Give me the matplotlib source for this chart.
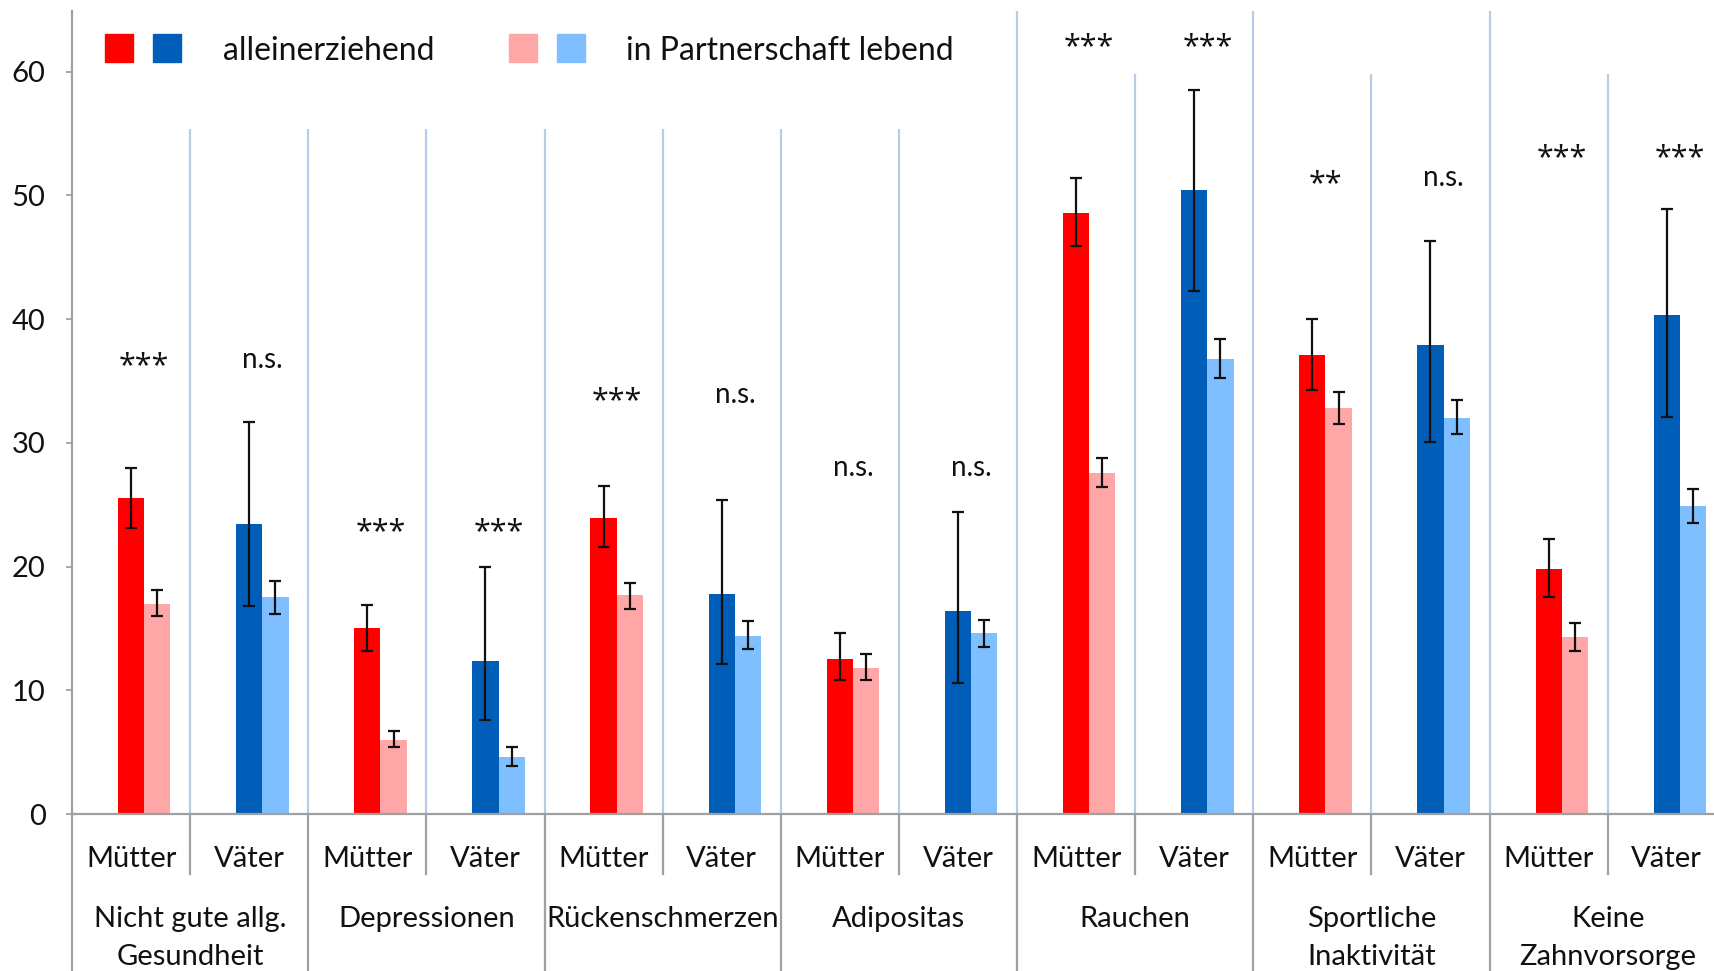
import matplotlib
matplotlib.use("Agg")
import matplotlib.pyplot as plt
from matplotlib.patches import Rectangle

plt.rcParams['font.family'] = ['Lato', 'DejaVu Sans']

# ---------------- data ----------------
categories = ["Nicht gute allg.\nGesundheit", "Depressionen", "Rückenschmerzen",
              "Adipositas", "Rauchen", "Sportliche\nInaktivität", "Keine\nZahnvorsorge"]
subgroups = ["Mütter", "Väter"]

# alleinerziehend (Mütter, Väter per category)
single = [25.5, 23.4, 15.0, 12.4, 23.9, 17.8, 12.5, 16.4, 48.6, 50.4, 37.1, 37.9, 19.8, 40.3]
single_lo = [23.1, 16.8, 13.2, 7.6, 21.6, 12.1, 10.8, 10.6, 45.9, 42.3, 34.3, 30.1, 17.5, 32.1]
single_hi = [28.0, 31.7, 16.9, 20.0, 26.5, 25.4, 14.6, 24.4, 51.4, 58.5, 40.0, 46.3, 22.2, 48.9]

# in Partnerschaft lebend
partner = [17.0, 17.5, 6.0, 4.6, 17.7, 14.4, 11.8, 14.6, 27.6, 36.8, 32.8, 32.0, 14.3, 24.9]
partner_lo = [16.0, 16.2, 5.4, 3.9, 16.6, 13.3, 10.8, 13.5, 26.4, 35.2, 31.5, 30.7, 13.2, 23.5]
partner_hi = [18.1, 18.8, 6.7, 5.4, 18.7, 15.6, 12.9, 15.7, 28.8, 38.4, 34.1, 33.5, 15.4, 26.3]

sig = ["***", "n.s.", "***", "***", "***", "n.s.", "n.s.", "n.s.",
       "***", "***", "**", "n.s.", "***", "***"]
sig_y = [36.7, 36.7, 23.3, 23.3, 33.9, 33.9, 28.0, 28.0, 62.5, 62.5, 51.4, 51.4, 53.5, 53.5]

legend_labels = ["alleinerziehend", "in Partnerschaft lebend"]

# separator line tops (data units) for boundaries 1..13
sep_top = [55.4] * 7 + [65, 59.8, 65, 59.8, 65, 59.8]

# ---------------- style ----------------
c_red, c_pink = "#FF0000", "#FFA6A6"
c_blue, c_lblue = "#005EB8", "#80BFFF"
grid_c = "#B8CCE8"
axis_c = "#A0A0A0"
txt_c = "#111111"
W, H = 1714, 971

fig = plt.figure(figsize=(W / 100, H / 100), dpi=100)
ax = fig.add_axes([72 / W, 1 - 814 / H, 1 - 72 / W, (814 - 11) / H])

n = len(single)
bw = 0.222
dark_cols = [c_red if i % 2 == 0 else c_blue for i in range(n)]
light_cols = [c_pink if i % 2 == 0 else c_lblue for i in range(n)]
xd = [i + 0.5 for i in range(n)]
xl = [i + 0.5 + bw for i in range(n)]

# separator lines
ax.vlines(range(1, n), 0, sep_top, color=grid_c, lw=1.6, zorder=1)

ax.bar(xd, single, width=bw, color=dark_cols, edgecolor="none", zorder=2)
ax.bar(xl, partner, width=bw, color=light_cols, edgecolor="none", zorder=2)

ax.errorbar(xd, single, yerr=[[v - l for v, l in zip(single, single_lo)],
                              [h - v for v, h in zip(single, single_hi)]],
            fmt="none", ecolor=txt_c, elinewidth=1.6, capsize=4.5, capthick=1.6, zorder=3)
ax.errorbar(xl, partner, yerr=[[v - l for v, l in zip(partner, partner_lo)],
                               [h - v for v, h in zip(partner, partner_hi)]],
            fmt="none", ecolor=txt_c, elinewidth=1.6, capsize=4.5, capthick=1.6, zorder=3)

for i in range(n):
    if sig[i].startswith("*"):
        ax.text(i + 0.5 + bw / 2, sig_y[i] - 0.5, sig[i], ha="center", va="center",
                fontsize=22, color=txt_c, family=["Open Sans", "DejaVu Sans"])
    else:
        ax.text(i + 0.5 + bw / 2, sig_y[i], sig[i], ha="center", va="center",
                fontsize=20, color=txt_c)

ax.set_xlim(0, 13.9)
ax.set_ylim(0, 64.9)
ax.set_yticks(range(0, 61, 10))
ax.set_xticks([])
ax.tick_params(axis="y", length=4, width=1.3, color=axis_c, pad=15, labelsize=21,
               labelcolor=txt_c)
for s in ["top", "right"]:
    ax.spines[s].set_visible(False)
for s in ["left", "bottom"]:
    ax.spines[s].set_color(axis_c)
    ax.spines[s].set_linewidth(1.6)

# extended axis lines below the plot
ax.plot([0, 0], [0, -0.3], transform=ax.transAxes, color=axis_c, lw=1.6, clip_on=False)
for b in range(1, n):
    y_end = -0.075 if b % 2 == 1 else -0.3
    ax.plot([b, b], [0, y_end], transform=ax.get_xaxis_transform(), color=axis_c,
            lw=1.6, clip_on=False)

# sub labels
for i in range(n):
    ax.text(i + 0.5, -0.056, subgroups[i % 2], transform=ax.get_xaxis_transform(),
            ha="center", va="center", fontsize=21, color=txt_c)
# category labels
for k, cat in enumerate(categories):
    lines = cat.split("\n")
    for j, ln in enumerate(lines):
        ax.text(2 * k + 1, -0.131 - 0.047 * j, ln, transform=ax.get_xaxis_transform(),
                ha="center", va="center", fontsize=21, color=txt_c)

# legend
sq = 28
def square(x, y, col):
    fig.patches.append(Rectangle((x / W, 1 - (y + sq) / H), sq / W, sq / H,
                                 transform=fig.transFigure, color=col))
square(105, 34, c_red)
square(153, 34, c_blue)
square(509, 34, c_pink)
square(557, 34, c_lblue)
fig.text(223 / W, 1 - 51 / H, legend_labels[0], ha="left", va="center", fontsize=23, color=txt_c)
fig.text(626 / W, 1 - 51 / H, legend_labels[1], ha="left", va="center", fontsize=23, color=txt_c)

fig.savefig("out.png", dpi=100)
